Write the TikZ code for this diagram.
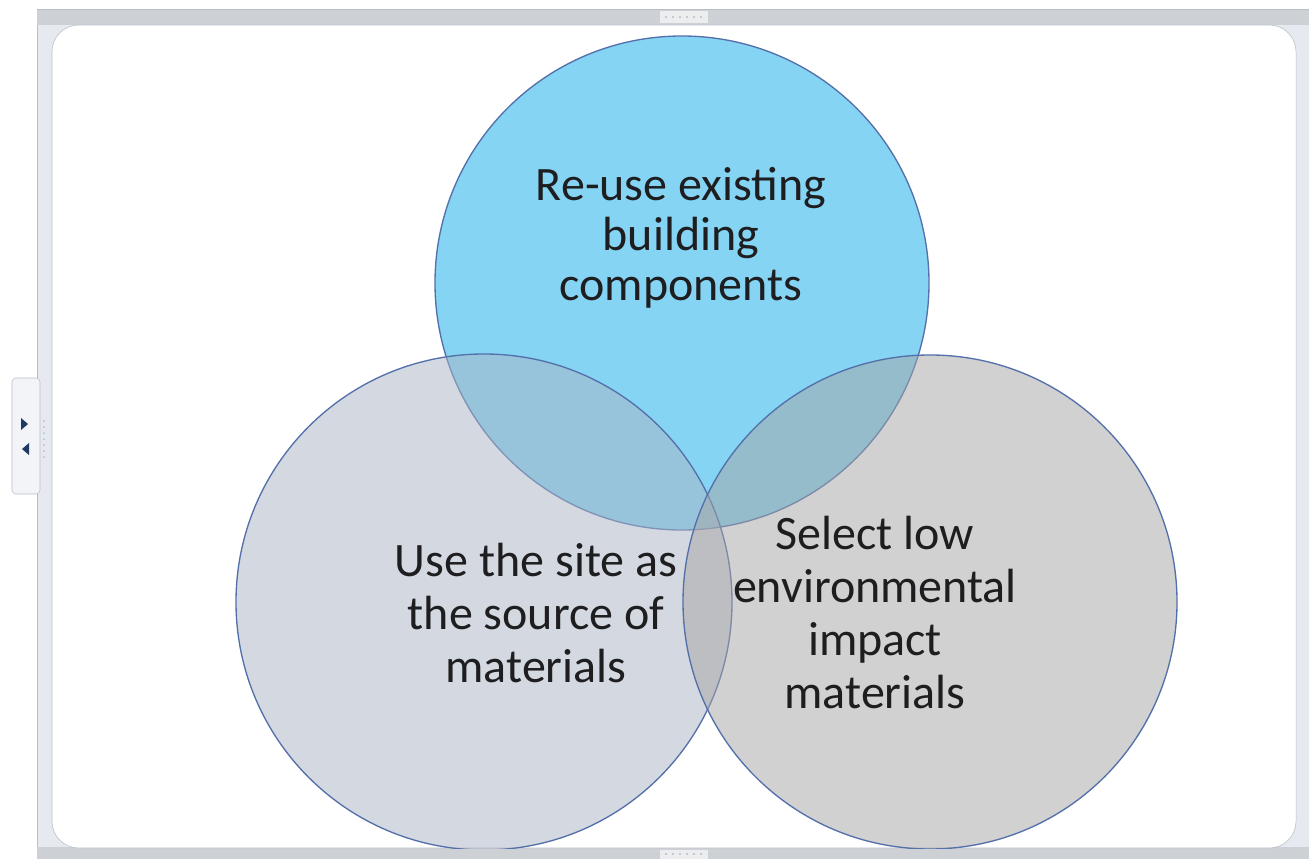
\documentclass[tikz,border=0pt]{standalone}
\usepackage{fontspec}
\setmainfont{Carlito}
\definecolor{topfill}{RGB}{13,171,233}
\definecolor{leftfill}{RGB}{171,181,197}
\definecolor{rightfill}{RGB}{165,165,165}
\definecolor{rimblue}{RGB}{84,112,170}
\definecolor{framegrey}{RGB}{205,209,214}
\definecolor{framelight}{RGB}{230,234,240}
\definecolor{frameedge}{RGB}{184,190,198}
\definecolor{tabnavy}{RGB}{30,58,98}
\definecolor{inktext}{RGB}{30,30,32}

\begin{document}
\begin{tikzpicture}[x=0.75pt,y=-0.75pt,line join=round,
  venn/.style={draw=rimblue,line width=1pt,fill opacity=0.5},
  vtext/.style={align=center,text=inktext,inner sep=0pt,
    font=\fontsize{36}{39.75}\selectfont},
  gripdot/.style={fill=frameedge}]
  \useasboundingbox (0,0) rectangle (1309,859);
  \clip (0,0) rectangle (1309,859);

  % frame round the drawing area
  \filldraw[fill=framelight,draw=frameedge] (37,9) rectangle (1320,870);
  \fill[framegrey] (37,9) rectangle (1320,25);
  \fill[framegrey] (37,847) rectangle (1320,870);
  \draw[frameedge] (37,9) -- (1320,9);
  \filldraw[fill=white,draw=frameedge,rounded corners=20] (52,25) rectangle (1296,848);

  % the three sets
  \coordinate (ctop) at (682,283);
  \coordinate (cleft) at (484,602);
  \coordinate (cright) at (930,602);
  \begin{scope}
    \clip (52,25) rectangle (1296,848);
    \path[venn,fill=topfill] (ctop) circle[radius=247];
    \path[venn,fill=leftfill] (cleft) circle[radius=248];
    \path[venn,fill=rightfill] (cright) circle[radius=247];
  \end{scope}

  \node[vtext,font=\fontsize{36}{37.5}\selectfont] (reuse) at (681,238) {Re-use existing\\building\\components};
  \node[vtext] (site) at (536,613) {Use the site as\\the source of\\materials};
  \node[vtext] (lowimpact) at (875,613) {Select low\\environmental\\impact\\materials};

  % side tab and grips
  \filldraw[fill=white!50!framelight,draw=frameedge,rounded corners=3] (12,378) rectangle (40,494);
  \fill[tabnavy] (21,418) -- (28,424) -- (21,430) -- cycle;
  \fill[tabnavy] (29,443) -- (22,449) -- (29,455) -- cycle;
  \foreach \y in {421,427,...,457}
    \fill[gripdot] (44,\y) circle[radius=1];
  \fill[white!60!framegrey] (660,11) rectangle (708,23);
  \fill[white!60!framegrey] (660,850) rectangle (708,859);
  \foreach \x in {666,673,...,703} {
    \fill[gripdot] (\x,17) circle[radius=1.2];
    \fill[gripdot] (\x,854) circle[radius=1.2];
  }
\end{tikzpicture}
\end{document}
